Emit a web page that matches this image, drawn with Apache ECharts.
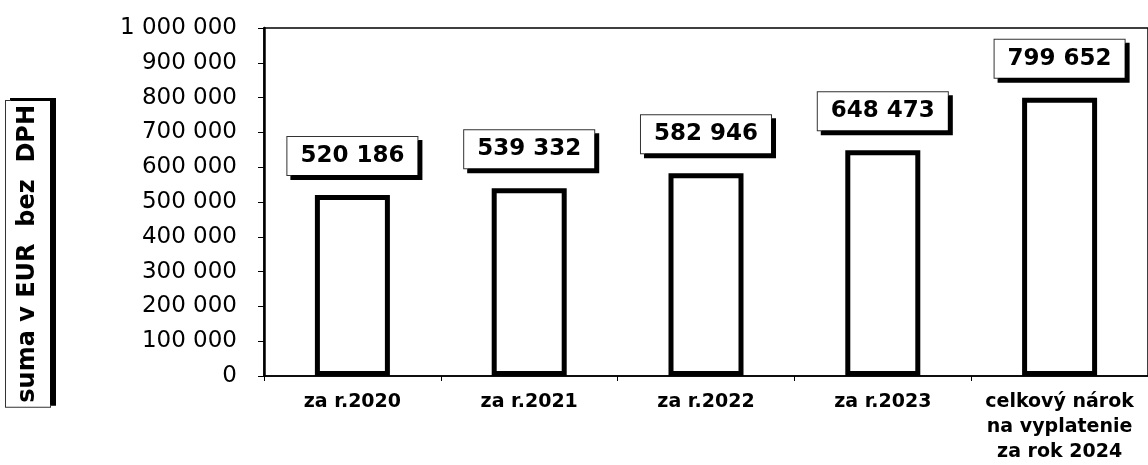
<!DOCTYPE html>
<html>
<head>
<meta charset="utf-8">
<script src="https://cdn.jsdelivr.net/npm/echarts@6/dist/echarts.min.js"></script>
<style>
  html, body { margin: 0; padding: 0; background: #fff; }
  #chart { width: 1148px; height: 465px; }
</style>
</head>
<body>
<div id="chart"></div>
<script>
const categories = [
  "za r.2020",
  "za r.2021",
  "za r.2022",
  "za r.2023",
  "celkový nárok\nna vyplatenie\nza rok 2024",
]
const amounts = [520186, 539332, 582946, 648473, 799652]
const yMin = 0
const yMax = 1000000
const yStep = 100000
const yName = "suma v EUR  bez  DPH"

const fontFamily = "DejaVu Sans"
const withSpaces = (v) => String(v).replace(/\B(?=(\d{3})+(?!\d))/g, " ")

const chart = echarts.init(document.getElementById("chart"), null, { renderer: "canvas" })

const option = {
  animation: false,
  backgroundColor: "#fff",
  // the axis title sits lower than the middle of the axis, so it is drawn as a graphic
  graphic: [
    {
      type: "text",
      left: 5,
      top: 100,
      rotation: Math.PI / 2,
      style: {
        text: yName,
        font: "bold 24px DejaVu Sans",
        fill: "#000",
        backgroundColor: "#fff",
        borderColor: "#333",
        borderWidth: 1,
        padding: [10, 4, 10, 4],
        shadowColor: "#000",
        shadowOffsetX: 5,
        shadowOffsetY: -2,
        shadowBlur: 0,
      },
    },
  ],
  grid: {
    left: 264,
    right: -6,
    top: 28,
    bottom: 89,
    show: true,
    borderColor: "#000",
    borderWidth: 1.5,
    backgroundColor: "transparent",
  },
  xAxis: {
    type: "category",
    data: categories,
    axisLine: { show: true, lineStyle: { color: "#000", width: 1.5 } },
    axisTick: { show: true, length: 5, lineStyle: { color: "#000" } },
    axisLabel: {
      interval: 0,
      margin: 14,
      color: "#000",
      fontFamily,
      fontWeight: "bold",
      fontSize: 19,
      lineHeight: 25,
    },
    splitLine: { show: false },
  },
  yAxis: {
    type: "value",
    min: yMin,
    max: yMax,
    interval: yStep,
    axisLine: { show: true, lineStyle: { color: "#000", width: 2.5 } },
    axisTick: { show: true, length: 6, lineStyle: { color: "#000" } },
    axisLabel: {
      margin: 27,
      color: "#000",
      fontFamily,
      fontSize: 23,
      formatter: (v) => withSpaces(v),
    },
    splitLine: { show: false },
  },
  series: [
    {
      type: "bar",
      data: amounts,
      barWidth: 75,
      itemStyle: {
        color: "#fff",
        borderColor: "#000",
        borderWidth: 5,
      },
      label: {
        show: true,
        position: "top",
        distance: 20,
        color: "#000",
        fontFamily,
        fontWeight: "bold",
        fontSize: 23,
        lineHeight: 26,
        backgroundColor: "#fff",
        borderColor: "#333",
        borderWidth: 1,
        padding: [6, 13, 6, 13],
        shadowColor: "#000",
        shadowOffsetX: 4,
        shadowOffsetY: 4,
        shadowBlur: 0,
        formatter: (p) => withSpaces(p.value),
      },
    },
  ],
}

chart.setOption(option)
window.addEventListener("resize", () => chart.resize())
</script>
</body>
</html>
